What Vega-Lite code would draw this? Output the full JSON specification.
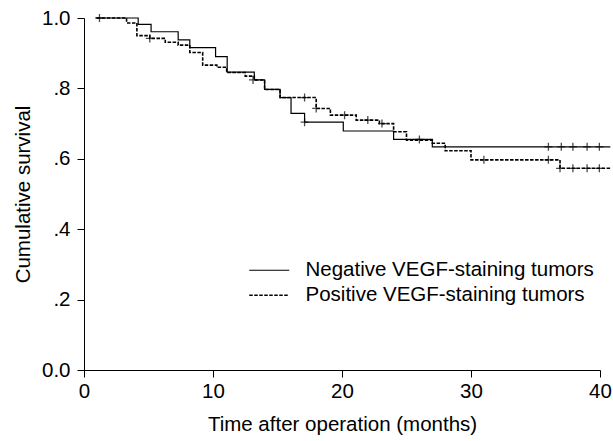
{
  "$schema": "https://vega.github.io/schema/vega-lite/v6.json",
  "width": 516,
  "height": 352,
  "autosize": {"type": "none"},
  "padding": {"left": 84, "top": 18, "right": 13, "bottom": 71},
  "background": "white",
  "config": {
    "view": {"stroke": null},
    "font": "Liberation Sans",
    "axis": {
      "grid": false,
      "domainColor": "black",
      "domainWidth": 1,
      "tickColor": "black",
      "tickWidth": 1,
      "tickSize": 7,
      "labelColor": "black",
      "labelFontSize": 20.5,
      "labelFont": "Liberation Sans",
      "titleFont": "Liberation Sans",
      "titleFontSize": 20.5,
      "titleFontWeight": "normal",
      "titleColor": "black"
    },
    "legend": {
      "orient": "none",
      "legendX": 175,
      "legendY": 242,
      "padding": 0,
      "labelFontSize": 20.5,
      "labelFont": "Liberation Sans",
      "labelColor": "black",
      "labelOffset": 26,
      "rowPadding": 4,
      "symbolType": "M-10,0L10,0",
      "symbolSize": 16,
      "symbolStrokeWidth": 1.3,
      "symbolStrokeColor": "black",
      "labelLimit": 400
    }
  },
  "datasets": {
    "steps": [
      {"g": "Negative VEGF-staining tumors", "t": 0.9, "s": 1.0},
      {"g": "Negative VEGF-staining tumors", "t": 4.2, "s": 0.982},
      {"g": "Negative VEGF-staining tumors", "t": 5.2, "s": 0.961},
      {"g": "Negative VEGF-staining tumors", "t": 7.3, "s": 0.938},
      {"g": "Negative VEGF-staining tumors", "t": 8.2, "s": 0.916},
      {"g": "Negative VEGF-staining tumors", "t": 10.2, "s": 0.89},
      {"g": "Negative VEGF-staining tumors", "t": 11.1, "s": 0.846},
      {"g": "Negative VEGF-staining tumors", "t": 13.2, "s": 0.824},
      {"g": "Negative VEGF-staining tumors", "t": 14.0, "s": 0.797},
      {"g": "Negative VEGF-staining tumors", "t": 15.2, "s": 0.774},
      {"g": "Negative VEGF-staining tumors", "t": 16.05, "s": 0.729},
      {"g": "Negative VEGF-staining tumors", "t": 17.1, "s": 0.704},
      {"g": "Negative VEGF-staining tumors", "t": 20.1, "s": 0.679},
      {"g": "Negative VEGF-staining tumors", "t": 24.0, "s": 0.655},
      {"g": "Negative VEGF-staining tumors", "t": 27.0, "s": 0.634},
      {"g": "Negative VEGF-staining tumors", "t": 40.8, "s": 0.634},
      {"g": "Positive VEGF-staining tumors", "t": 1.0, "s": 1.0},
      {"g": "Positive VEGF-staining tumors", "t": 3.3, "s": 0.986},
      {"g": "Positive VEGF-staining tumors", "t": 4.1, "s": 0.95},
      {"g": "Positive VEGF-staining tumors", "t": 5.1, "s": 0.942},
      {"g": "Positive VEGF-staining tumors", "t": 6.3, "s": 0.931},
      {"g": "Positive VEGF-staining tumors", "t": 7.3, "s": 0.923},
      {"g": "Positive VEGF-staining tumors", "t": 8.2, "s": 0.902},
      {"g": "Positive VEGF-staining tumors", "t": 9.2, "s": 0.866},
      {"g": "Positive VEGF-staining tumors", "t": 10.3, "s": 0.86},
      {"g": "Positive VEGF-staining tumors", "t": 11.06, "s": 0.845},
      {"g": "Positive VEGF-staining tumors", "t": 12.5, "s": 0.835},
      {"g": "Positive VEGF-staining tumors", "t": 13.2, "s": 0.824},
      {"g": "Positive VEGF-staining tumors", "t": 14.0, "s": 0.797},
      {"g": "Positive VEGF-staining tumors", "t": 15.2, "s": 0.774},
      {"g": "Positive VEGF-staining tumors", "t": 18.0, "s": 0.743},
      {"g": "Positive VEGF-staining tumors", "t": 19.1, "s": 0.724},
      {"g": "Positive VEGF-staining tumors", "t": 21.1, "s": 0.71},
      {"g": "Positive VEGF-staining tumors", "t": 22.9, "s": 0.70},
      {"g": "Positive VEGF-staining tumors", "t": 24.0, "s": 0.677},
      {"g": "Positive VEGF-staining tumors", "t": 25.0, "s": 0.653},
      {"g": "Positive VEGF-staining tumors", "t": 27.0, "s": 0.644},
      {"g": "Positive VEGF-staining tumors", "t": 28.0, "s": 0.623},
      {"g": "Positive VEGF-staining tumors", "t": 30.0, "s": 0.597},
      {"g": "Positive VEGF-staining tumors", "t": 36.9, "s": 0.573},
      {"g": "Positive VEGF-staining tumors", "t": 40.8, "s": 0.573}
    ],
    "censor": [
      {"g": "Negative VEGF-staining tumors", "t": 1.2, "s": 1.0},
      {"g": "Negative VEGF-staining tumors", "t": 17.1, "s": 0.704},
      {"g": "Negative VEGF-staining tumors", "t": 26.0, "s": 0.655},
      {"g": "Negative VEGF-staining tumors", "t": 36.0, "s": 0.634},
      {"g": "Negative VEGF-staining tumors", "t": 37.0, "s": 0.634},
      {"g": "Negative VEGF-staining tumors", "t": 37.9, "s": 0.634},
      {"g": "Negative VEGF-staining tumors", "t": 39.0, "s": 0.634},
      {"g": "Negative VEGF-staining tumors", "t": 39.95, "s": 0.634},
      {"g": "Positive VEGF-staining tumors", "t": 5.1, "s": 0.942},
      {"g": "Positive VEGF-staining tumors", "t": 13.1, "s": 0.824},
      {"g": "Positive VEGF-staining tumors", "t": 17.1, "s": 0.774},
      {"g": "Positive VEGF-staining tumors", "t": 18.0, "s": 0.743},
      {"g": "Positive VEGF-staining tumors", "t": 20.2, "s": 0.724},
      {"g": "Positive VEGF-staining tumors", "t": 22.0, "s": 0.71},
      {"g": "Positive VEGF-staining tumors", "t": 23.1, "s": 0.70},
      {"g": "Positive VEGF-staining tumors", "t": 31.0, "s": 0.597},
      {"g": "Positive VEGF-staining tumors", "t": 36.0, "s": 0.597},
      {"g": "Positive VEGF-staining tumors", "t": 36.9, "s": 0.573},
      {"g": "Positive VEGF-staining tumors", "t": 37.9, "s": 0.573},
      {"g": "Positive VEGF-staining tumors", "t": 39.0, "s": 0.573},
      {"g": "Positive VEGF-staining tumors", "t": 39.95, "s": 0.573}
    ]
  },
  "layer": [
    {
      "data": {"name": "steps"},
      "mark": {"type": "line", "interpolate": "step-after", "clip": false, "color": "black"},
      "encoding": {
        "x": {
          "field": "t", "type": "quantitative",
          "scale": {"domain": [0, 40], "nice": false, "zero": false},
          "axis": {"values": [0, 10, 20, 30, 40], "title": "Time after operation (months)", "labelPadding": 4, "titlePadding": 13, "labelFlush": false}
        },
        "y": {
          "field": "s", "type": "quantitative",
          "scale": {"domain": [0, 1], "nice": false},
          "axis": {
            "values": [0, 0.2, 0.4, 0.6, 0.8, 1],
            "labelExpr": "datum.value == 0 || datum.value == 1 ? format(datum.value, '.1f') : substring(format(datum.value, '.1f'), 1)",
            "title": "Cumulative survival",
            "labelPadding": 7,
            "titlePadding": 8,
            "labelFlush": false
          }
        },
        "strokeDash": {
          "field": "g", "type": "nominal",
          "scale": {"domain": ["Negative VEGF-staining tumors", "Positive VEGF-staining tumors"], "range": [[1, 0], [3.5, 1.5]]},
          "legend": {"title": null}
        },
        "strokeWidth": {
          "field": "g", "type": "nominal",
          "scale": {"domain": ["Negative VEGF-staining tumors", "Positive VEGF-staining tumors"], "range": [1.2, 1.6]},
          "legend": null
        }
      }
    },
    {
      "data": {"name": "censor"},
      "mark": {"type": "point", "shape": "M-1,0L1,0M0,-1L0,1", "size": 64, "color": "black", "filled": false, "strokeWidth": 1.3, "clip": false},
      "encoding": {
        "x": {"field": "t", "type": "quantitative"},
        "y": {"field": "s", "type": "quantitative"}
      }
    }
  ]
}
